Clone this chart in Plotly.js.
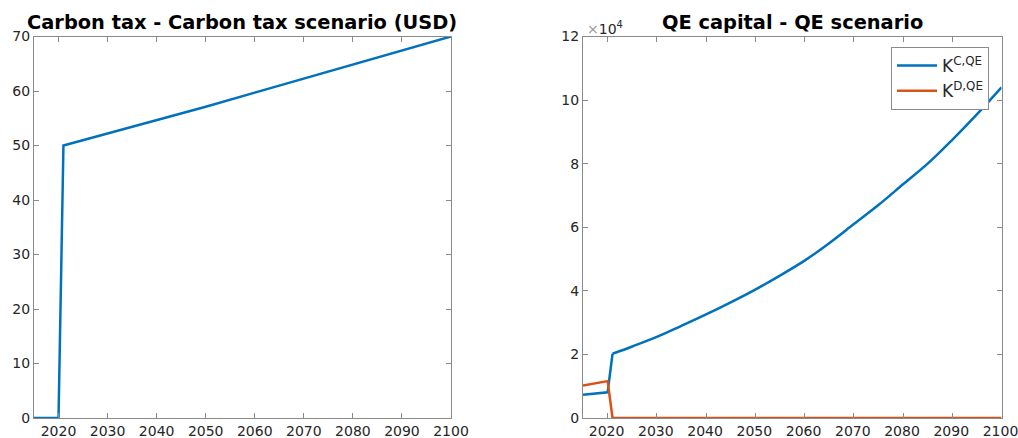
<!DOCTYPE html>
<html>
<head>
<meta charset="utf-8">
<script src="https://cdn.plot.ly/plotly-3.0.1.min.js"></script>
<style>html,body{margin:0;padding:0;background:#fff;}#chart{width:1018px;height:438px;}</style>
</head>
<body>
<div id="chart"></div>
<script>
// Left panel: carbon tax (USD)
const taxYears = [2015, 2020, 2021, 2030, 2040, 2050, 2060, 2070, 2080, 2090, 2100];
const taxValues = [0, 0, 50, 52.2, 54.6, 57.1, 59.7, 62.3, 64.9, 67.4, 70];

// Right panel: QE capital
const kYears = [2015, 2020, 2021, 2025, 2030, 2035, 2040, 2045, 2050, 2055, 2060, 2065, 2070, 2075, 2080, 2085, 2090, 2095, 2100];
const kC = [7300, 8100, 20200, 22500, 25500, 29000, 32600, 36400, 40400, 44800, 49500, 55000, 61000, 67000, 73500, 80000, 87500, 95500, 104000];
const kD = [10200, 11600, 0, 0, 0, 0, 0, 0, 0, 0, 0, 0, 0, 0, 0, 0, 0, 0, 0];

const leftTicks = [0, 10, 20, 30, 40, 50, 60, 70];
const rightTicks = [0, 20000, 40000, 60000, 80000, 100000, 120000];
const rightTickText = ['0', '2', '4', '6', '8', '10', '12'];
const xTicks = [2020, 2030, 2040, 2050, 2060, 2070, 2080, 2090, 2100];

const blue = '#0072BD', orange = '#D95319';
const axisColor = '#8a8a8a', textColor = '#262626';
const font = 'DejaVu Sans, sans-serif';

// the post-jump part of K^C is drawn smooth; the jump itself stays straight
const jumpIdx = kYears.indexOf(2021);

const traces = [
  {x: taxYears, y: taxValues, type: 'scatter', mode: 'lines', line: {color: blue, width: 2.5}, xaxis: 'x', yaxis: 'y', showlegend: false},
  {x: kYears.slice(0, jumpIdx + 1), y: kC.slice(0, jumpIdx + 1), type: 'scatter', mode: 'lines', name: 'K<sup>C,QE</sup>', legendgroup: 'c', line: {color: blue, width: 2.5}, xaxis: 'x2', yaxis: 'y2'},
  {x: kYears.slice(jumpIdx), y: kC.slice(jumpIdx), type: 'scatter', mode: 'lines', name: 'K<sup>C,QE</sup>', legendgroup: 'c', showlegend: false, line: {color: blue, width: 2.5, shape: 'spline', smoothing: 1}, xaxis: 'x2', yaxis: 'y2'},
  {x: kYears, y: kD, type: 'scatter', mode: 'lines', name: 'K<sup>D,QE</sup>', line: {color: orange, width: 2.5}, xaxis: 'x2', yaxis: 'y2'}
];

function ax(extra) {
  return Object.assign({
    showline: true, linecolor: axisColor, linewidth: 1, mirror: 'ticks',
    ticks: 'inside', ticklen: 5, tickcolor: axisColor, tickwidth: 1,
    showgrid: false, zeroline: false, ticklabeloverflow: 'allow',
    tickfont: {family: font, size: 14, color: textColor}
  }, extra);
}

const H = 438, W = 1018;
const yDom = [(H - 418) / H, (H - 36.5) / H];

const layout = {
  width: W, height: H,
  margin: {l: 0, r: 0, t: 0, b: 0},
  paper_bgcolor: '#fff', plot_bgcolor: '#fff',
  font: {family: font, color: textColor},
  xaxis: ax({domain: [34 / W, 451 / W], range: [2015, 2100], tickvals: xTicks, anchor: 'y'}),
  yaxis: ax({domain: yDom, range: [0, 70], tickvals: leftTicks, anchor: 'x'}),
  xaxis2: ax({domain: [583 / W, 1001.5 / W], range: [2015, 2100], tickvals: xTicks, anchor: 'y2', ticklabelshift: -1}),
  yaxis2: ax({domain: yDom, range: [0, 120000], tickvals: rightTicks, ticktext: rightTickText, anchor: 'x2'}),
  showlegend: true,
  legend: {
    x: 989 / W, xanchor: 'right', y: (H - 47) / H, yanchor: 'top',
    bgcolor: '#fff', bordercolor: axisColor, borderwidth: 1,
    font: {family: font, size: 17, color: textColor},
    itemwidth: 40,
    tracegroupgap: 0
  },
  annotations: [
    {text: '<b>Carbon tax - Carbon tax scenario (USD)</b>', xref: 'paper', yref: 'paper', x: 242 / W, y: (H - 22) / H, xanchor: 'center', yanchor: 'middle', showarrow: false, font: {family: font, size: 19.4, color: '#000'}},
    {text: '<b>QE capital - QE scenario</b>', xref: 'paper', yref: 'paper', x: 792 / W, y: (H - 22) / H, xanchor: 'center', yanchor: 'middle', showarrow: false, font: {family: font, size: 19.4, color: '#000'}},
    {text: '<span style="color:#999">×</span>10<sup>4</sup>', xref: 'paper', yref: 'paper', x: 585 / W, y: (H - 28) / H, xanchor: 'left', yanchor: 'middle', showarrow: false, font: {family: font, size: 14, color: textColor}}
  ]
};

Plotly.newPlot('chart', traces, layout, {displayModeBar: false, staticPlot: true});
</script>
</body>
</html>
